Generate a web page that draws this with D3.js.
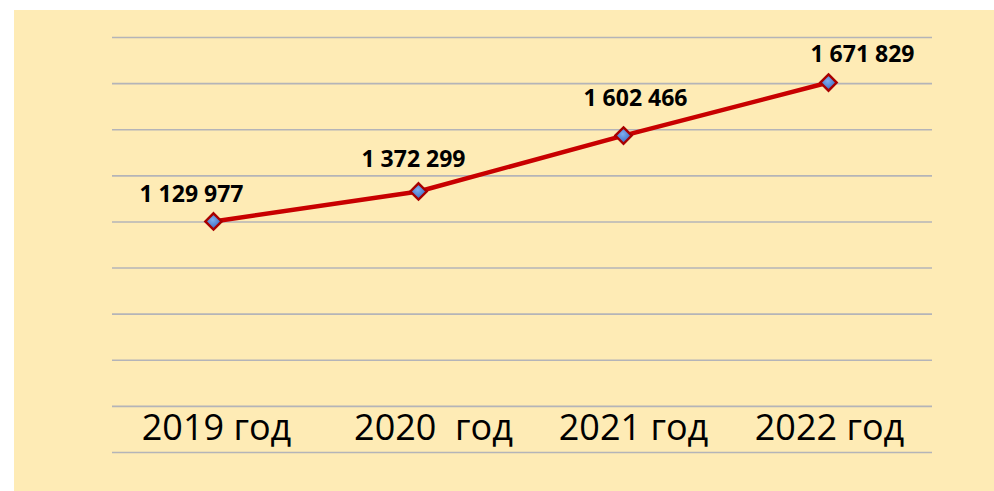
<!DOCTYPE html>
<html>
<head>
<meta charset="utf-8">
<script src="https://cdn.jsdelivr.net/npm/d3@7"></script>
<style>
  html, body { margin: 0; padding: 0; background: #ffffff; }
  svg { display: block; }
</style>
</head>
<body>
<svg id="chart" width="994" height="491"></svg>
<script>
// ---- data ----
const categories = ["2019 год", "2020  год", "2021 год", "2022 год"];
const plottedValues = [1000000, 1129977, 1372299, 1602466];
// values shown in the data labels
const labelValues = [1129977, 1372299, 1602466, 1671829];
const gridTicks = [0, 200000, 400000, 600000, 800000, 1000000, 1200000, 1400000, 1600000, 1800000];

// ---- layout ----
const W = 994, H = 491;
const plot = { left: 112, right: 932, top: 37, bottom: 452 };
const labelNudge = [[-22, -19], [-5, -24], [12, -30], [34, -21]];
const tickNudge = [3, 15, 10, 1];

const svg = d3.select("#chart");

// background panel
svg.append("rect").attr("x", 14).attr("y", 10).attr("width", W - 14).attr("height", H - 10)
  .attr("fill", "#FEEBB5");

const x = d3.scalePoint().domain(categories).range([111, 931]).padding(0.5);
const y = d3.scaleLinear().domain([0, 1800000]).range([plot.bottom, plot.top]);

// gridlines
const grid = svg.append("g").attr("transform", `translate(${plot.left},0)`)
  .call(d3.axisLeft(y).tickValues(gridTicks).tickSize(-(plot.right - plot.left)).tickFormat(""));
grid.select(".domain").remove();
grid.selectAll(".tick line").attr("stroke", "#b4b4b8").attr("stroke-width", 1.6);

// category labels
svg.append("g").selectAll("text").data(categories).join("text")
  .attr("x", (d, i) => x(d) + tickNudge[i])
  .attr("y", 440)
  .attr("text-anchor", "middle")
  .attr("xml:space", "preserve")
  .style("white-space", "pre")
  .attr("font-family", "'Open Sans', 'Noto Sans', sans-serif")
  .attr("font-size", 36)
  .attr("fill", "#000")
  .text(d => d);

// line
const pts = categories.map((c, i) => [x(c), y(plottedValues[i])]);
svg.append("path")
  .attr("d", d3.line()(pts))
  .attr("fill", "none")
  .attr("stroke", "#C80000")
  .attr("stroke-width", 4.5)
  .attr("stroke-linejoin", "round");

// marker gradient
const defs = svg.append("defs");
const grad = defs.append("radialGradient").attr("id", "mk").attr("cx", "45%").attr("cy", "40%").attr("r", "65%");
grad.append("stop").attr("offset", "0%").attr("stop-color", "#7FAEF0");
grad.append("stop").attr("offset", "100%").attr("stop-color", "#2E5EB8");

// markers
svg.append("g").selectAll("path").data(pts).join("path")
  .attr("transform", d => `translate(${d[0]},${d[1]})`)
  .attr("d", d3.symbol().type(d3.symbolDiamond2).size(170)())
  .attr("fill", "url(#mk)")
  .attr("stroke", "#A80000")
  .attr("stroke-width", 2.4);

// data labels
const fmt = v => d3.format(",")(v).replace(/,/g, " ");
svg.append("g").selectAll("text").data(labelValues).join("text")
  .attr("x", (d, i) => pts[i][0] + labelNudge[i][0])
  .attr("y", (d, i) => pts[i][1] + labelNudge[i][1])
  .attr("text-anchor", "middle")
  .attr("font-family", "'Open Sans', 'Noto Sans', sans-serif")
  .attr("font-weight", "bold")
  .attr("font-size", 23)
  .attr("fill", "#000")
  .text(d => fmt(d));
</script>
</body>
</html>
